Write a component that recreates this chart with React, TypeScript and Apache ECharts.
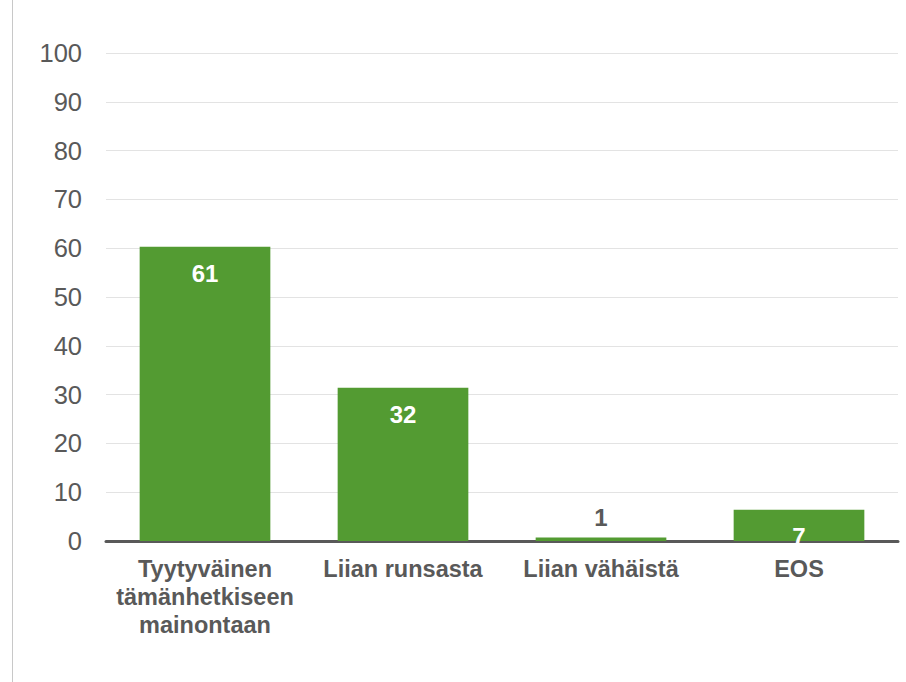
import React, { useEffect, useRef } from "react";
import * as echarts from "echarts";

const categories = ["Tyytyväinen\ntämänhetkiseen\nmainontaan", "Liian runsasta", "Liian vähäistä", "EOS"];
const values = [60.3, 31.4, 0.7, 6.4];
const labels = ["61", "32", "1", "7"];
const labelInside = [true, true, false, true];

export default function App() {
  const ref = useRef<HTMLDivElement>(null);
  useEffect(() => {
    if (!ref.current) return;
    const chart = echarts.init(ref.current, null, { renderer: "svg" });
    const font = "'Liberation Sans', Arial, sans-serif";
    chart.setOption({
      animation: false,
      backgroundColor: "#ffffff",
      grid: { left: 106, right: 8, top: 53, bottom: 141 },
      graphic: [
        {
          type: "line",
          shape: { x1: 12.5, y1: 0, x2: 12.5, y2: 682 },
          style: { stroke: "#c8c8c8", lineWidth: 1 },
        },
      ],
      xAxis: {
        type: "category",
        data: categories,
        axisLine: { show: true, lineStyle: { color: "#595959", width: 3 } },
        axisTick: { show: false },
        axisLabel: {
          color: "#595959",
          fontFamily: font,
          fontWeight: "bold",
          fontSize: 23.5,
          lineHeight: 28,
          margin: 14,
          interval: 0,
        },
      },
      yAxis: {
        type: "value",
        min: 0,
        max: 100,
        interval: 10,
        axisLine: { show: false },
        axisTick: { show: false },
        splitLine: { lineStyle: { color: "#e3e3e3", width: 1 } },
        axisLabel: {
          color: "#595959",
          fontFamily: font,
          fontSize: 25.5,
          margin: 24,
        },
      },
      series: [
        {
          type: "bar",
          barWidth: "66%",
          itemStyle: { color: "#539b32" },
          data: values.map((v, i) => ({
            value: v,
            label: {
              show: true,
              position: labelInside[i] ? "insideTop" : "top",
              distance: labelInside[i] ? 15 : 8,
              formatter: () => labels[i],
              color: labelInside[i] ? "#ffffff" : "#595959",
              fontFamily: font,
              fontWeight: "bold",
              fontSize: 24,
            },
          })),
        },
      ],
    });
    return () => chart.dispose();
  }, []);
  return (
    <div
      ref={ref}
      style={{ position: "absolute", left: 0, top: 0, width: 906, height: 682 }}
    />
  );
}
